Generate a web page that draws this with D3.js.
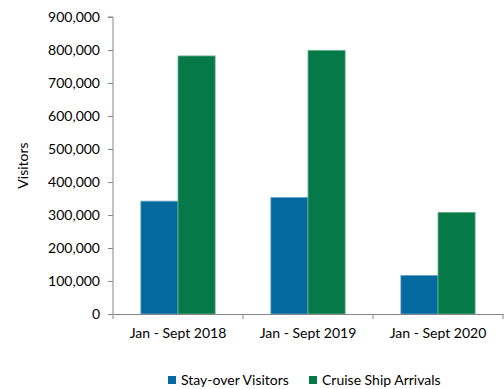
<!DOCTYPE html>
<html lang="en">
<head>
    <meta charset="UTF-8">
    <title>visitors</title>
    <script src="https://d3js.org/d3.v7.min.js"></script>
    <style>
        html, body {
            padding: 0;
            margin: 0;
            background-color: white;
            font-family: Lato, sans-serif;
        }
    </style>
</head>
<body>
<script>
    // периоды и значения
    const categories = ["Jan - Sept 2018", "Jan - Sept 2019", "Jan - Sept 2020"];
    const series = ["Stay-over Visitors", "Cruise Ship Arrivals"];
    const stayOver = [342000, 353000, 117000];
    const cruise = [782000, 799000, 308000];
    const yTicks = [0, 100000, 200000, 300000, 400000, 500000, 600000, 700000, 800000, 900000];
    const colors = ["#03699e", "#057a48"];

    const width = 504, height = 389;
    const margin = {left: 113, right: 1, top: 17, bottom: 75};

    const svg = d3.select("body").append("svg")
        .attr("width", width)
        .attr("height", height);

    const x = d3.scaleBand()
        .domain(categories)
        .range([margin.left, width - margin.right]);

    const x1 = d3.scaleBand()
        .domain(series)
        .range([0, x.bandwidth()])
        .paddingOuter(0.75);

    const y = d3.scaleLinear()
        .domain([0, 900000])
        .range([height - margin.bottom, margin.top]);

    const values = [stayOver, cruise];

    // столбцы
    const groups = svg.append("g")
        .selectAll("g")
        .data(categories)
        .join("g")
        .attr("transform", d => `translate(${x(d)},0)`);

    groups.selectAll("rect")
        .data((d, i) => series.map((s, j) => ({s, v: values[j][i], j})))
        .join("rect")
        .attr("x", d => x1(d.s))
        .attr("width", x1.bandwidth())
        .attr("y", d => y(d.v))
        .attr("height", d => y(0) - y(d.v))
        .attr("fill", d => colors[d.j])
        .attr("stroke", d => d.j === 0 ? "#6aa7c6" : "#6fb08f")
        .attr("stroke-width", 0.8);

    // оси
    const yAxis = svg.append("g")
        .attr("transform", `translate(${margin.left},0)`)
        .call(d3.axisLeft(y).tickValues(yTicks).tickFormat(d3.format(",")).tickSize(5).tickPadding(8));

    const xAxis = svg.append("g")
        .attr("transform", `translate(0,${y(0)})`)
        .call(d3.axisBottom(x).tickSize(0).tickPadding(14));

    // деления между категориями
    xAxis.selectAll(".sep")
        .data([margin.left, ...categories.map(c => x(c) + x.bandwidth())])
        .join("line")
        .attr("class", "sep")
        .attr("x1", d => d).attr("x2", d => d)
        .attr("y1", 0).attr("y2", 5)
        .attr("stroke", "#868686");

    [yAxis, xAxis].forEach(a => {
        a.select(".domain").attr("stroke", "#868686");
        a.selectAll(".tick line").attr("stroke", "#868686");
        a.selectAll("text")
            .style("font-family", "Lato, sans-serif")
            .style("font-size", "14px")
            .attr("fill", "#000");
    });
    yAxis.select(".domain").attr("d", `M-5,${y(900000)}H0V${y(0)}`);

    svg.append("text")
        .attr("transform", `translate(28,${(y(0) + y(900000)) / 2}) rotate(-90)`)
        .attr("text-anchor", "middle")
        .style("font-size", "14px")
        .text("Visitors");

    // легенда
    const legend = svg.append("g")
        .style("font-size", "14px");
    const legendX = [168, 309];
    series.forEach((s, i) => {
        legend.append("rect")
            .attr("x", legendX[i]).attr("y", 376)
            .attr("width", 8).attr("height", 8)
            .attr("fill", colors[i]);
        legend.append("text")
            .attr("x", legendX[i] + 13).attr("y", 385)
            .text(s);
    });
</script>
</body>
</html>
